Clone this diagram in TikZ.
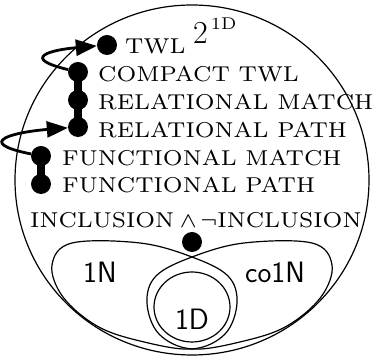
\documentclass[tikz,border=0pt]{standalone}
\usepackage{fontspec}
\usepackage{graphicx}
\usetikzlibrary{arrows.meta}

% serif text: small design size, scaled up
\font\serifA=cmr7 at 21.5pt
\font\serifS=cmr7 at 17pt
\font\serifT=cmr17 at 32pt
\font\symA=cmsy7 at 21.5pt
\newcommand{\widetext}[1]{\scalebox{1.05}[1]{#1}}
\newcommand{\landsym}{{\symA\char"5E}}
\newcommand{\lnotsym}{{\symA\char"3A}}

\tikzset{
  dot/.style={circle, fill=black, minimum size=20pt, inner sep=0pt},
  serif/.style={anchor=base west, inner sep=0pt, font=\serifA},
  sans/.style={anchor=base west, inner sep=0pt, font=\sffamily\fontsize{29.5}{34}\selectfont},
  outline/.style={line width=1.2pt},
  bar/.style={line width=8pt},
  loopArrow/.style={line width=2.8pt, -{Triangle[length=21pt, width=16pt]}}
}

\begin{document}
\begin{tikzpicture}[x=1pt, y=1pt]
  \useasboundingbox (0,0) rectangle (383,358);

  % outer region
  \draw[outline] (192,178) ellipse [x radius=177, y radius=175];

  % the two lobes, crossing above and below the inner circle
  \draw[outline] plot[smooth cycle, tension=0.6] coordinates {
    (192,101) (228,82) (237,55) (225,24) (192,9) (140,17) (97,32)
    (63,61) (52,93) (72,115) (140,115)};
  \draw[outline] plot[smooth cycle, tension=0.6] coordinates {
    (192,101) (156,82) (147,55) (159,24) (192,9) (244,17) (287,32)
    (321,61) (332,93) (312,115) (244,115)};

  % inner circle
  \draw[outline] (192,51) ellipse [x radius=38, y radius=35];

  % labels of the regions
  \node[sans] (l1n) at (83,75) {1N};
  \node[sans] (lco) at (245,75) {co1N};
  \node[sans, anchor=base] (l1d) at (192,28) {1D};

  % dots
  \node[dot] (twl) at (107,313) {};
  \node[dot] (cmp) at (78,286) {};
  \node[dot] (rm)  at (78,258) {};
  \node[dot] (rp)  at (78,231) {};
  \node[dot] (fm)  at (41,202) {};
  \node[dot] (fp)  at (41,174) {};
  \node[dot] (inc) at (192,116) {};

  % bars joining dots
  \draw[bar] (cmp.center) -- (rm.center) -- (rp.center);
  \draw[bar] (fm.center) -- (fp.center);

  % looping arrows
  \draw[loopArrow] (cmp) .. controls (20,300) and (50,308) .. (twl);
  \draw[loopArrow] (fm) .. controls (-28,216) and (15,226) .. (rp);

  % texts
  \node[serif] (ttwl) at (125,304) {\widetext{TWL}};
  \node[serif] (tpow) at (193,314.7)
    {{\serifT 2}\kern3pt\raisebox{13.3pt}{\widetext{\serifS 1D}}};
  \node[serif] (tcmp) at (98,276.5) {\widetext{COMPACT TWL}};
  \node[serif] (trm)  at (98,248.5) {\widetext{RELATIONAL MATCH}};
  \node[serif] (trp)  at (98,220.5) {\widetext{RELATIONAL PATH}};
  \node[serif] (tfm)  at (62,192.5) {\widetext{FUNCTIONAL MATCH}};
  \node[serif] (tfp)  at (62,165)   {\widetext{FUNCTIONAL PATH}};
  \node[serif] (tinc) at (30,130.7)
    {\widetext{INCLUSION\kern5pt\landsym\kern3pt\lnotsym INCLUSION}};
\end{tikzpicture}
\end{document}
